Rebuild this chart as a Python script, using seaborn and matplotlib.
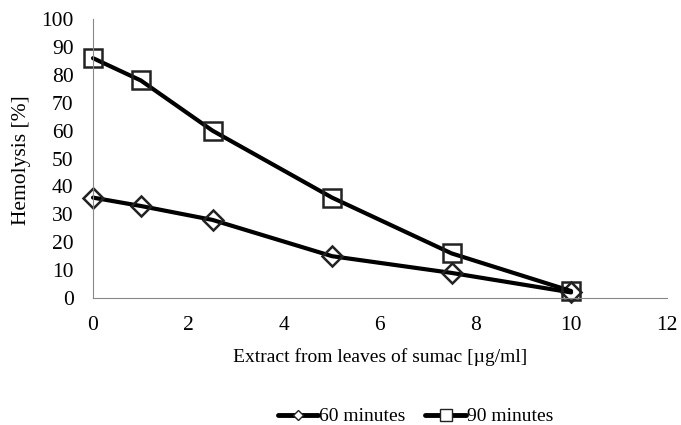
import pandas as pd
import matplotlib.pyplot as plt
import seaborn as sns
from matplotlib.lines import Line2D

concentration = [0, 1, 2.5, 5, 7.5, 10]
hemolysis_60 = [36, 33, 28, 15, 9, 2]
hemolysis_90 = [86, 78, 60, 36, 16, 2.5]
series_names = ["60 minutes", "90 minutes"]

df = pd.DataFrame({
    "x": concentration * 2,
    "y": hemolysis_60 + hemolysis_90,
    "series": [series_names[0]] * len(concentration) + [series_names[1]] * len(concentration),
})

sns.set_style("white")
plt.rcParams["font.family"] = ["Liberation Serif", "DejaVu Serif"]
plt.rcParams["text.color"] = "black"
plt.rcParams["axes.labelcolor"] = "black"
plt.rcParams["xtick.color"] = "black"
plt.rcParams["ytick.color"] = "black"

fig = plt.figure(figsize=(6.81, 4.25), dpi=100)
ax = fig.add_axes([0.1366, 0.2988, 0.8424, 0.6562])

sns.lineplot(data=df, x="x", y="y", hue="series", style="series",
             markers={"60 minutes": "D", "90 minutes": "s"}, dashes=False,
             palette={"60 minutes": "black", "90 minutes": "black"},
             linewidth=3, markerfacecolor="none",
             markeredgecolor="#222222", markeredgewidth=1.8, ax=ax, legend=False)
for line, ms in zip(ax.lines, [10, 13]):
    line.set_markersize(ms)
    line.set_clip_on(False)

ax.set_xlim(0, 12)
ax.set_ylim(0, 100)
ax.set_xticks(range(0, 13, 2))
ax.set_yticks(range(0, 101, 10))
ax.tick_params(axis="both", labelsize=15.5, length=0)
ax.tick_params(axis="y", pad=14)
ax.tick_params(axis="x", pad=13)
for s in ["top", "right"]:
    ax.spines[s].set_visible(False)
for s in ["left", "bottom"]:
    ax.spines[s].set_color("#888888")
    ax.spines[s].set_linewidth(0.8)

ax.set_xlabel("Extract from leaves of sumac [µg/ml]", fontsize=14, va="center")
ax.xaxis.set_label_coords(0.5, -0.211)
ax.set_ylabel("Hemolysis [%]", fontsize=15.5, va="center")
ax.yaxis.set_label_coords(-0.124, 0.495)

handles = [
    Line2D([], [], color="black", lw=3.5, marker="D", markersize=5.5,
           markerfacecolor="white", markeredgecolor="#222222"),
    Line2D([], [], color="black", lw=3.5, marker="s", markersize=8,
           markerfacecolor="white", markeredgecolor="#222222"),
]
fig.legend(handles, series_names, loc="center", bbox_to_anchor=(0.61, 0.02),
           ncol=2, frameon=False, fontsize=14, handlelength=2.1,
           handletextpad=0.05, columnspacing=1.0)

fig.savefig("out.png", dpi=100)
